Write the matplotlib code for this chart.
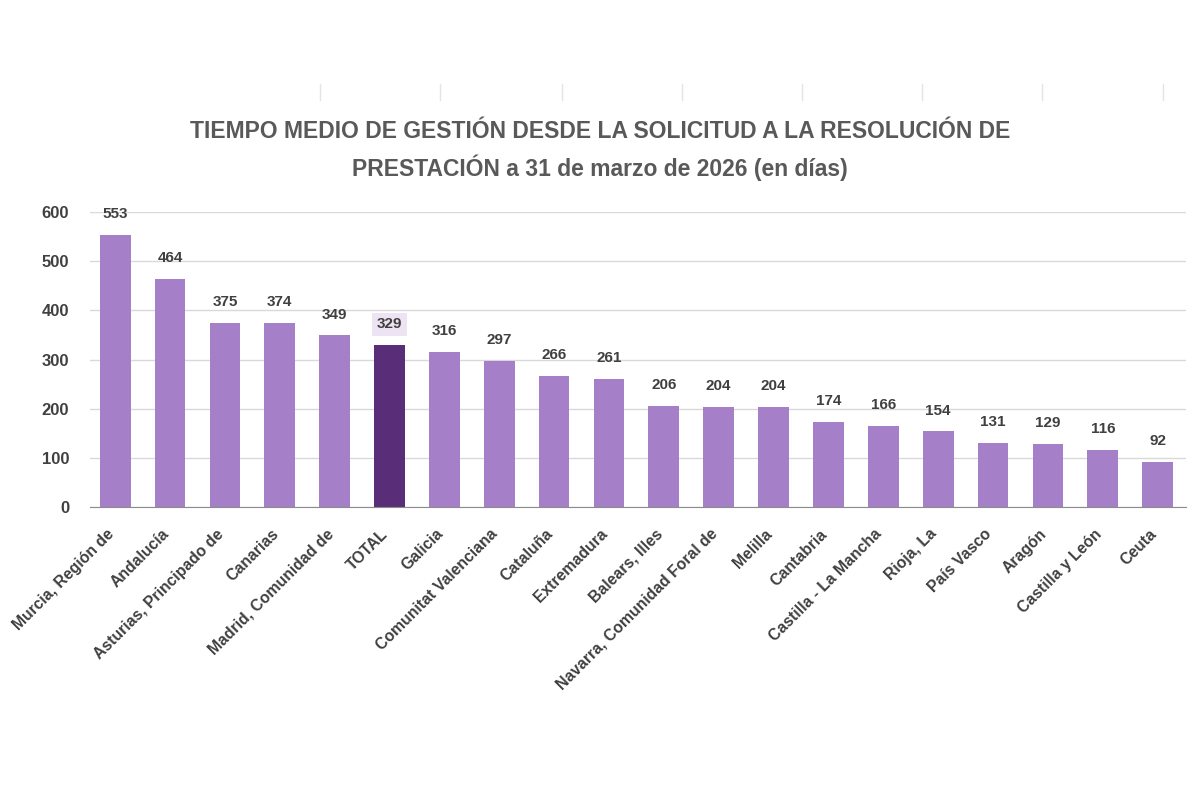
import matplotlib
matplotlib.use("Agg")
from matplotlib import pyplot as plt
from matplotlib.lines import Line2D
from matplotlib.transforms import ScaledTranslation

regiones = ["Murcia, Región de", "Andalucía", "Asturias, Principado de", "Canarias",
            "Madrid, Comunidad de", "TOTAL", "Galicia", "Comunitat Valenciana",
            "Cataluña", "Extremadura", "Balears, Illes", "Navarra, Comunidad Foral de",
            "Melilla", "Cantabria", "Castilla - La Mancha", "Rioja, La", "País Vasco",
            "Aragón", "Castilla y León", "Ceuta"]
dias = [553, 464, 375, 374, 349, 329, 316, 297, 266, 261, 206, 204, 204, 174,
        166, 154, 131, 129, 116, 92]
y_ticks = [0, 100, 200, 300, 400, 500, 600]

plt.rcParams['font.family'] = ['Liberation Sans', 'DejaVu Sans']

light = '#a57fc8'
dark = '#5a2d78'
text_col = '#404040'
colors = [dark if r == "TOTAL" else light for r in regiones]

fig = plt.figure(figsize=(12, 8), dpi=100)
ax = fig.add_axes([0.075, 0.366, 0.913, 0.369])

x = list(range(len(regiones)))
bars = ax.bar(x, dias, width=0.56, color=colors, zorder=3)

for xi, v, r in zip(x, dias, regiones):
    kw = {}
    if r == "TOTAL":
        kw['bbox'] = dict(boxstyle='square,pad=0.3', fc='#ede3f3', ec='none')
    ax.annotate(str(v), (xi, v), xytext=(0, 10), textcoords='offset points',
                ha='center', va='bottom', fontsize=11, fontweight='bold',
                color=text_col, zorder=4, **kw)

ax.set_xlim(-0.46, 19.51)
ax.set_ylim(0, 600)
ax.set_yticks(y_ticks)
ax.set_yticklabels([str(t) for t in y_ticks], fontsize=12, fontweight='bold', color=text_col)
ax.set_xticks(x)
ax.set_xticklabels(regiones, rotation=45, ha='right', rotation_mode='anchor',
                   fontsize=11.3, fontweight='bold', color=text_col)
ax.tick_params(axis='both', length=0)
ax.tick_params(axis='y', pad=15)
ax.tick_params(axis='x', pad=8)
shift = ScaledTranslation(-9 / 100, -8 / 100, fig.dpi_scale_trans)
for lab in ax.get_xticklabels():
    lab.set_transform(lab.get_transform() + shift)

ax.grid(axis='y', color='#d9d9d9', linewidth=1, zorder=0)
for s in ['top', 'right', 'left']:
    ax.spines[s].set_visible(False)
ax.spines['bottom'].set_color('#8c8c8c')
ax.spines['bottom'].set_zorder(5)

fig.text(0.5, 0.812, "TIEMPO MEDIO DE GESTIÓN DESDE LA SOLICITUD A LA RESOLUCIÓN DE\n"
         "PRESTACIÓN a 31 de marzo de 2026 (en días)",
         ha='center', va='center', fontsize=16.5, fontweight='bold', color='#595959',
         linespacing=1.5)

# faint marks left at the top of the screenshot
for px in [320, 440, 562, 682, 802, 922, 1042, 1163]:
    fig.add_artist(Line2D([px / 1200, px / 1200], [1 - 84 / 800, 1 - 100 / 800],
                          color='#e4e4e4', linewidth=1))

fig.savefig("out.png", dpi=100, facecolor='white')
